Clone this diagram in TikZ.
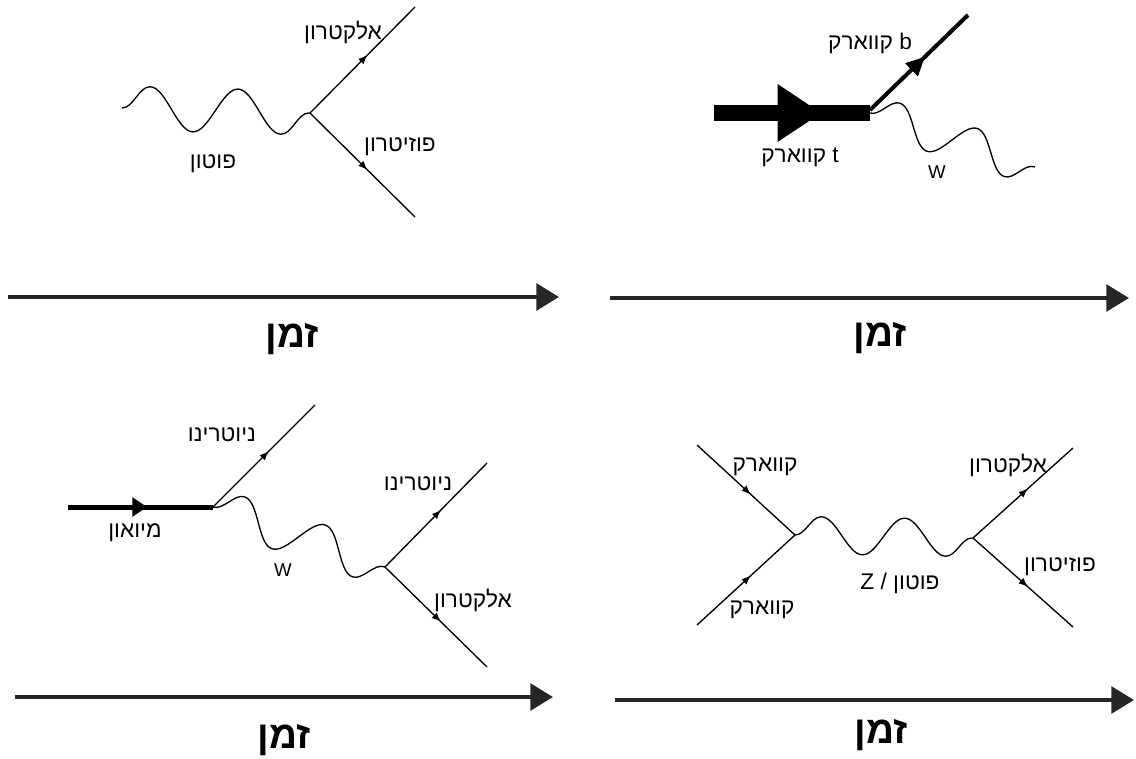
\documentclass[tikz,border=0pt]{standalone}
\usepackage{fontspec}
\setmainfont{Liberation Sans}
\newfontfamily\hebfont[Script=Hebrew]{Liberation Sans}
\TeXXeTstate=1
\usetikzlibrary{arrows.meta,decorations.markings,decorations.pathmorphing}
\newcommand\heb[1]{{\hebfont\beginR #1\endR}}

\begin{document}
\begin{tikzpicture}[x=0.75pt,y=-0.75pt,
	lbl/.style={inner sep=0pt, font=\fontsize{17}{19}\selectfont},
	latinlbl/.style={inner sep=0pt, font=\fontsize{14}{16}\selectfont},
	timelbl/.style={inner sep=0pt, font=\bfseries\fontsize{29}{32}\selectfont},
	timeline/.style={line width=3pt, black!85, -{Triangle[length=17pt,width=20pt]}},
	fermion/.style={line width=1pt, postaction={decorate},
		decoration={markings, mark=at position 0.55 with {\arrow{Latex[length=7pt,width=5.5pt]}}}},
	boson/.style 2 args={line width=1pt, decorate, decoration={snake, amplitude=#1, segment length=#2}}]
	\useasboundingbox (0,0) rectangle (1136,758);
	
	% photon -> electron + positron
	\coordinate (g1) at (122,108);
	\coordinate (v1) at (310,113);
	\coordinate (e1) at (415,7);
	\coordinate (p1) at (415,217);
	\draw[boson={16.5pt}{66pt}] (g1) -- (v1);
	\draw[fermion] (v1) -- (e1);
	\draw[fermion] (v1) -- (p1);
	\node[lbl] (le1) at (343,32) {\heb{אלקטרון}};
	\node[lbl] (lp1) at (400,147) {\heb{פוזיטרון}};
	\node[lbl] (lg1) at (213,164) {\heb{פוטון}};
	
	% t -> b + W
	\coordinate (t2) at (714,113);
	\coordinate (v2) at (870,113);
	\coordinate (b2) at (968,15);
	\coordinate (w2) at (1035,167);
	\draw[line width=12pt, postaction={decorate},
		decoration={markings, mark=at position 0.69 with {\arrow{Triangle[length=33pt,width=41pt]}}}] (t2) -- (v2);
	\draw[line width=3pt, postaction={decorate},
		decoration={markings, mark=at position 0.56 with {\arrow{Triangle[length=14pt,width=13pt]}}}] ([yshift=2.25pt]v2) -- (b2);
	\draw[boson={14pt}{61pt}] (v2) -- (w2);
	\node[lbl] (lb2) at (870,43) {\heb{קווארק}{} b};
	\node[lbl] (lt2) at (800,157) {\heb{קווארק}{} t};
	\node[latinlbl] (lw2) at (937,172) {W};
	
	% muon decay
	\coordinate (m3) at (68,507);
	\coordinate (v3) at (213,507);
	\coordinate (n3) at (315,405);
	\coordinate (v4) at (385,567);
	\coordinate (n4) at (487,463);
	\coordinate (e4) at (487,667);
	\draw[line width=3.75pt, postaction={decorate},
		decoration={markings, mark=at position 0.545 with {\arrow{Triangle[length=11pt,width=14pt]}}}] (m3) -- (v3);
	\draw[fermion] (v3) -- (n3);
	\draw[boson={15pt}{64pt}] (v3) -- (v4);
	\draw[fermion] (v4) -- (n4);
	\draw[fermion] (v4) -- (e4);
	\node[lbl] (ln3) at (222,435) {\heb{ניוטרינו}};
	\node[lbl] (ln4) at (418,484) {\heb{ניוטרינו}};
	\node[lbl] (lm3) at (135,533) {\heb{מיואון}};
	\node[latinlbl] (lw3) at (283,570) {W};
	\node[lbl] (le4) at (473,600) {\heb{אלקטרון}};
	
	% quark + quark -> electron + positron
	\coordinate (q5) at (697,445);
	\coordinate (r5) at (697,625);
	\coordinate (v5) at (795,535);
	\coordinate (v6) at (973,538);
	\coordinate (e6) at (1073,448);
	\coordinate (p6) at (1073,627);
	\draw[fermion] (q5) -- (v5);
	\draw[fermion] (r5) -- (v5);
	\draw[boson={14pt}{62.5pt}] (v5) -- (v6);
	\draw[fermion] (v6) -- (e6);
	\draw[fermion] (v6) -- (p6);
	\node[lbl] (lq5) at (765,467) {\heb{קווארק}};
	\node[lbl] (lr5) at (762,610) {\heb{קווארק}};
	\node[lbl] (le6) at (1008,465) {\heb{אלקטרון}};
	\node[lbl] (lp6) at (1060,567) {\heb{פוזיטרון}};
	\node[lbl] (lz5) at (900,583) {Z / \heb{פוטון}};
	
	% time axes
	\coordinate (a1) at (8,297);   \coordinate (b1) at (559,297);
	\coordinate (a2) at (610,298); \coordinate (b2') at (1129,298);
	\coordinate (a3) at (15,697);  \coordinate (b3) at (553,697);
	\coordinate (a4) at (615,700); \coordinate (b4) at (1134,700);
	\draw[timeline] (a1) -- (b1);
	\draw[timeline] (a2) -- (b2');
	\draw[timeline] (a3) -- (b3);
	\draw[timeline] (a4) -- (b4);
	\node[timelbl] (z1) at (292,339) {\heb{זמן}};
	\node[timelbl] (z2) at (880,338) {\heb{זמן}};
	\node[timelbl] (z3) at (284,740) {\heb{זמן}};
	\node[timelbl] (z4) at (881,735) {\heb{זמן}};
\end{tikzpicture}
\end{document}
